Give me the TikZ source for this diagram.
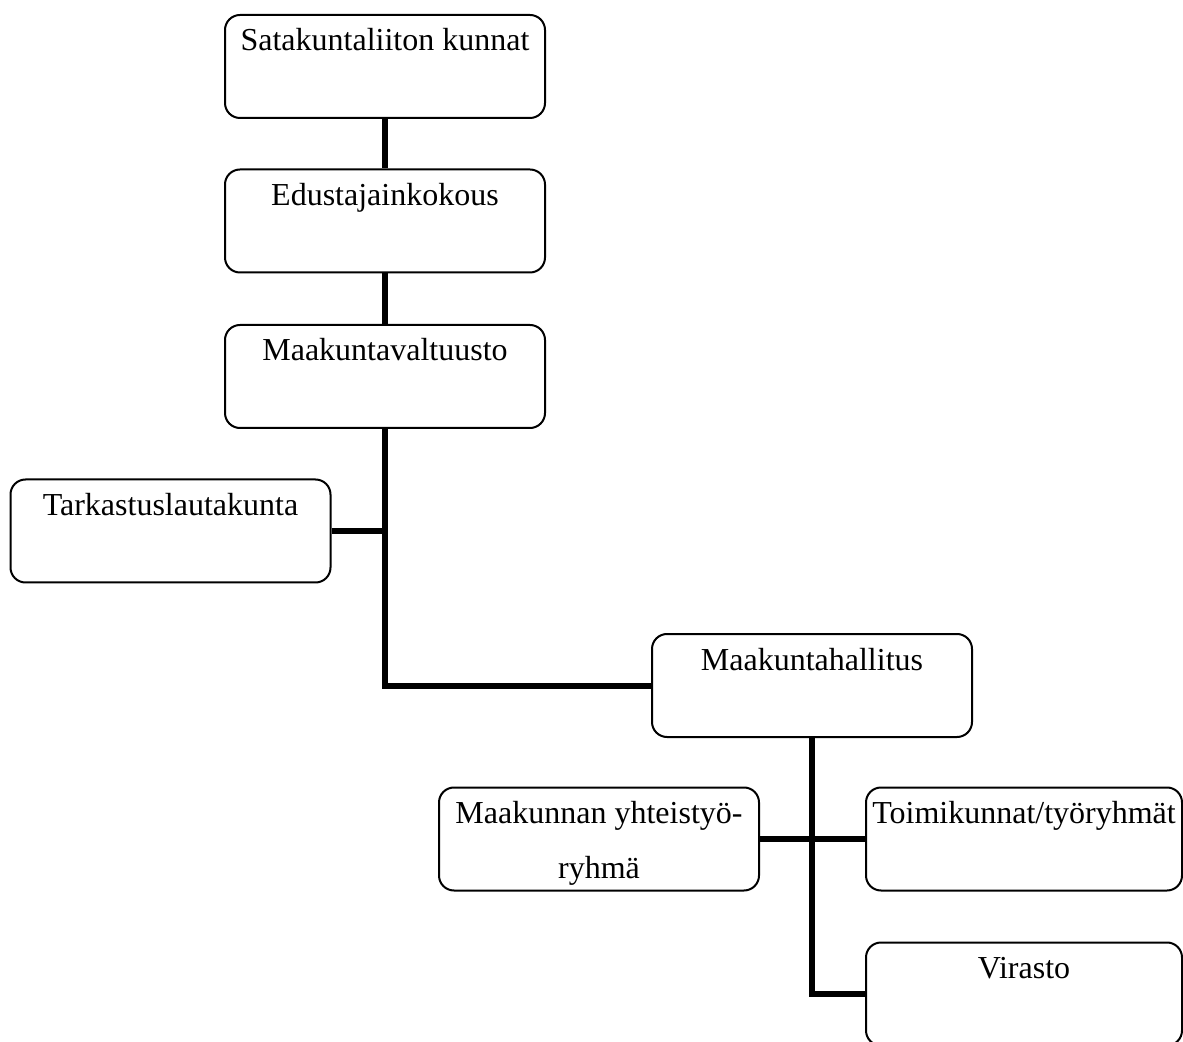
\documentclass[tikz,border=0pt]{standalone}
\usepackage{fontspec}
\setmainfont{Liberation Serif}
\usetikzlibrary{calc}
\begin{document}
\begin{tikzpicture}[x=0.5pt,y=-0.5pt,
  orgbox/.style={draw=black,line width=1pt,rounded corners=7.5pt,fill=white,
    minimum width=160pt,minimum height=51.5pt,inner sep=0pt},
  boxtext/.style={anchor=base,align=center,inner sep=0pt,
    font=\fontsize{16}{27.5}\selectfont},
  link/.style={draw=black,line width=3pt}]
\useasboundingbox[fill=white] (0,0) rectangle (1183,1042);
% boxes
\node[orgbox] (kunnat)   at (385,66.5)  {};
\node[orgbox] (edustaja) at (385,221)   {};
\node[orgbox] (valtuus)  at (385,376.5) {};
\node[orgbox] (tarkast)  at (170.5,531) {};
\node[orgbox] (hallitus) at (812,685.5) {};
\node[orgbox] (yhteis)   at (599,839)   {};
\node[orgbox,minimum width=158pt] (toimik)  at (1024,839) {};
\node[orgbox,minimum width=158pt] (virasto) at (1024,994) {};
% captions (base anchor of a two-line caption sits on its last line)
\node[boxtext] at ($(kunnat.north)+(0,37)$)   {Satakuntaliiton kunnat};
\node[boxtext] at ($(edustaja.north)+(0,37)$) {Edustajainkokous};
\node[boxtext] at ($(valtuus.north)+(0,37)$)  {Maakuntavaltuusto};
\node[boxtext] at ($(tarkast.north)+(0,37)$)  {Tarkastuslautakunta};
\node[boxtext] at ($(hallitus.north)+(0,37)$) {Maakuntahallitus};
\node[boxtext] at ($(yhteis.north)+(0,92)$)   {Maakunnan yhteistyö-\\ryhmä};
\node[boxtext] at ($(toimik.north)+(0,37)$)   {Toimikunnat/työryhmät};
\node[boxtext] at ($(virasto.north)+(0,37)$)  {Virasto};
% connectors
\coordinate (j1) at (385,531);
\coordinate (j2) at (385,685.5);
\coordinate (j4) at (812,994);
\draw[link] (kunnat.south) -- (edustaja.north);
\draw[link] (edustaja.south) -- (valtuus.north);
\draw[link] (valtuus.south) -- (j2) -- (hallitus.west);
\draw[link] (tarkast.east) -- (j1);
\draw[link] (hallitus.south) -- (j4) -- (virasto.west);
\draw[link] (yhteis.east) -- (toimik.west);
\end{tikzpicture}
\end{document}
